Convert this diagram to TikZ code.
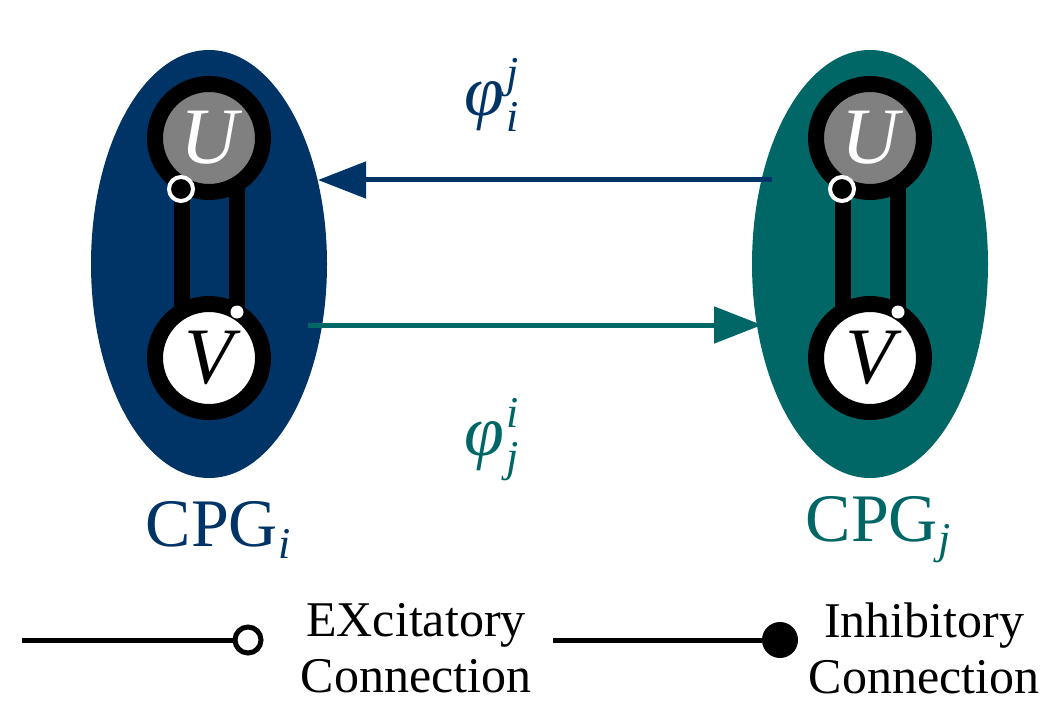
\documentclass[tikz,border=0pt]{standalone}
\usepackage{fontspec}
\setmainfont{Liberation Serif}
\usetikzlibrary{arrows.meta}
\definecolor{cblue}{RGB}{0,51,102}
\definecolor{cteal}{RGB}{0,102,102}
\definecolor{cgray}{RGB}{128,128,128}
\newcommand{\subit}[1]{{\fontsize{44}{44}\selectfont\itshape\raisebox{-12pt}{#1}}}
\newcommand{\phisym}[2]{{\itshape φ\kern2pt{\fontsize{44}{44}\selectfont\makebox[0pt][l]{\raisebox{28pt}{#2}}\raisebox{-16pt}{#1}}}}
\begin{document}
\begin{tikzpicture}[x=1pt,y=-1pt,
  neuron/.style={circle, draw=black, line width=16pt, minimum size=108pt, inner sep=0, font=\fontsize{80}{80}\selectfont\itshape},
  bar/.style={line width=16pt, black},
  exc/.style={circle, draw=white, fill=black, line width=4pt, minimum size=24pt, inner sep=0},
  inh/.style={circle, fill=white, minimum size=13pt, inner sep=0},
  big/.style={font=\fontsize{68}{68}\selectfont},
  leg/.style={font=\fontsize{50}{56}\selectfont, align=center},
  arr/.style={line width=5pt, -{Triangle[length=48pt,width=36pt]}}]
\useasboundingbox (0,0) rectangle (1059,711);
\foreach \n/\cx/\col in {i/209/cblue, j/870/cteal}{
  \fill[\col] (\cx,264) ellipse [x radius=118, y radius=214];
  \draw[bar] (\cx-27,140) -- (\cx-27,355);
  \draw[bar] (\cx+28,140) -- (\cx+28,355);
  \node[neuron, fill=cgray, text=white] (U\n) at (\cx,138) {U};
  \node[neuron, fill=white, text=black] (V\n) at (\cx,358) {V};
  \node[exc] (e\n) at (\cx-28,189) {};
  \node[inh] (h\n) at (\cx+28,312) {};
}
\coordinate (a1s) at (772,180); \coordinate (a1e) at (318,180);
\coordinate (a2s) at (308,325); \coordinate (a2e) at (762,325);
\draw[arr, cblue] (a1s) -- (a1e);
\draw[arr, cteal] (a2s) -- (a2e);
\node[cblue, font=\fontsize{72}{72}\selectfont] (p1) at (492,95) {\phisym{i}{j}};
\node[cteal, font=\fontsize{72}{72}\selectfont] (p2) at (492,440) {\phisym{j}{i}};
\node[big, cblue] (c1) at (218,530) {CPG\subit{i}};
\node[big, cteal] (c2) at (878,530) {CPG\subit{j}};
\coordinate (l1a) at (22,640);
\node[circle, draw=black, fill=white, line width=5pt, minimum size=26pt, inner sep=0] (l1b) at (248,640) {};
\draw[line width=5pt] (l1a) -- (l1b);
\coordinate (l2a) at (553,640);
\node[circle, fill=black, minimum size=36pt, inner sep=0] (l2b) at (780,640) {};
\draw[line width=5pt] (l2a) -- (l2b);
\node[leg] (t1) at (416,648) {EXcitatory\\Connection};
\node[leg] (t2) at (924,648) {Inhibitory\\Connection};
\end{tikzpicture}
\end{document}
